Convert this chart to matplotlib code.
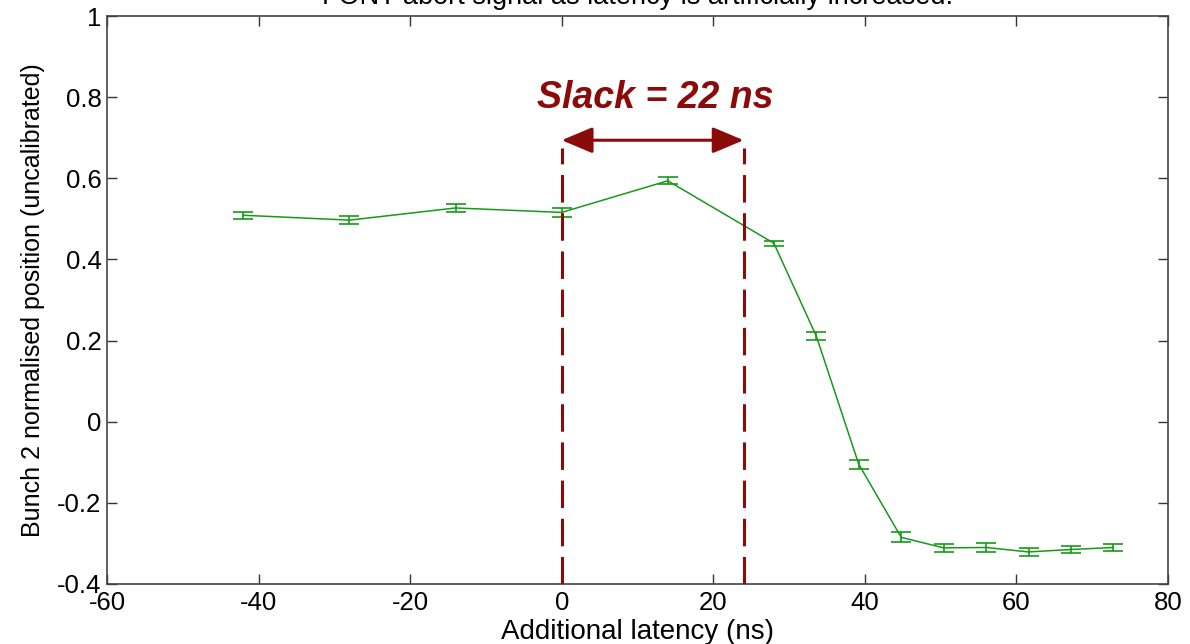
import numpy as np
import matplotlib
matplotlib.use("Agg")
import matplotlib.pyplot as plt

plt.rcParams['font.family'] = ['Liberation Sans', 'DejaVu Sans']
plt.rcParams['axes.unicode_minus'] = False

# measured bunch 2 position vs. added latency
latency = [-42, -28, -14, 0, 14, 28, 33.6, 39.2, 44.8, 50.4, 56, 61.6, 67.2, 72.8]
position = [0.509, 0.497, 0.527, 0.516, 0.594, 0.440, 0.211, -0.105, -0.285,
            -0.311, -0.310, -0.321, -0.315, -0.310]
pos_err = [0.009, 0.010, 0.009, 0.011, 0.009, 0.006, 0.009, 0.011, 0.012,
           0.009, 0.010, 0.009, 0.009, 0.008]

# slack window markers
slack_start = 0
slack_end = 24
slack_label = "Slack = 22 ns"

title = "FONT abort signal as latency is artificially increased."

dark_red = '#8b0a0a'
green = '#169a16'

fig = plt.figure(figsize=(11.9, 6.44), dpi=100)
ax = fig.add_axes([0.0899, 0.0932, 0.8916, 0.8818])

ax.errorbar(latency, position, yerr=pos_err, color=green, lw=1.1,
            capsize=7.4, capthick=1.2, elinewidth=1.2)

# dashed boundaries of the slack window
for xv in (slack_start, slack_end):
    ax.plot([xv, xv], [-0.4, 0.675], color=dark_red, lw=2.2,
            linestyle=(0, (9, 3.5)), zorder=3)

ax.annotate('', xy=(slack_end, 0.694), xytext=(slack_start, 0.694),
            arrowprops=dict(arrowstyle='<|-|>, head_length=0.95, head_width=0.4',
                            color=dark_red, lw=2.2, mutation_scale=20,
                            shrinkA=0, shrinkB=0))
ax.text(12.3, 0.773, slack_label, ha='center', va='baseline', fontsize=27,
        fontweight='bold', fontstyle='italic', color=dark_red)

ax.set_xlim(-60, 80)
ax.set_ylim(-0.4, 1)
ax.set_xticks(np.arange(-60, 81, 20))
ax.set_yticks(np.arange(-0.4, 1.01, 0.2))
ax.set_yticklabels(['-0.4', '-0.2', '0', '0.2', '0.4', '0.6', '0.8', '1'])
ax.tick_params(direction='in', length=7.2, width=1.0, top=True, right=True,
               labelsize=18.5, colors='#333333', labelcolor='black')
ax.tick_params(axis='x', pad=5)
ax.tick_params(axis='y', pad=4)
for s in ax.spines.values():
    s.set_color('#444444')
    s.set_linewidth(1.2)

ax.set_xlabel("Additional latency (ns)", fontsize=20, labelpad=3)
ax.set_ylabel("Bunch 2 normalised position (uncalibrated)", fontsize=18, labelpad=9)

# title sits mostly above the top edge of the figure
fig.text(0.536, 0.9935, title, ha='center', va='baseline', fontsize=19.5)

fig.savefig("out.png", dpi=100)
